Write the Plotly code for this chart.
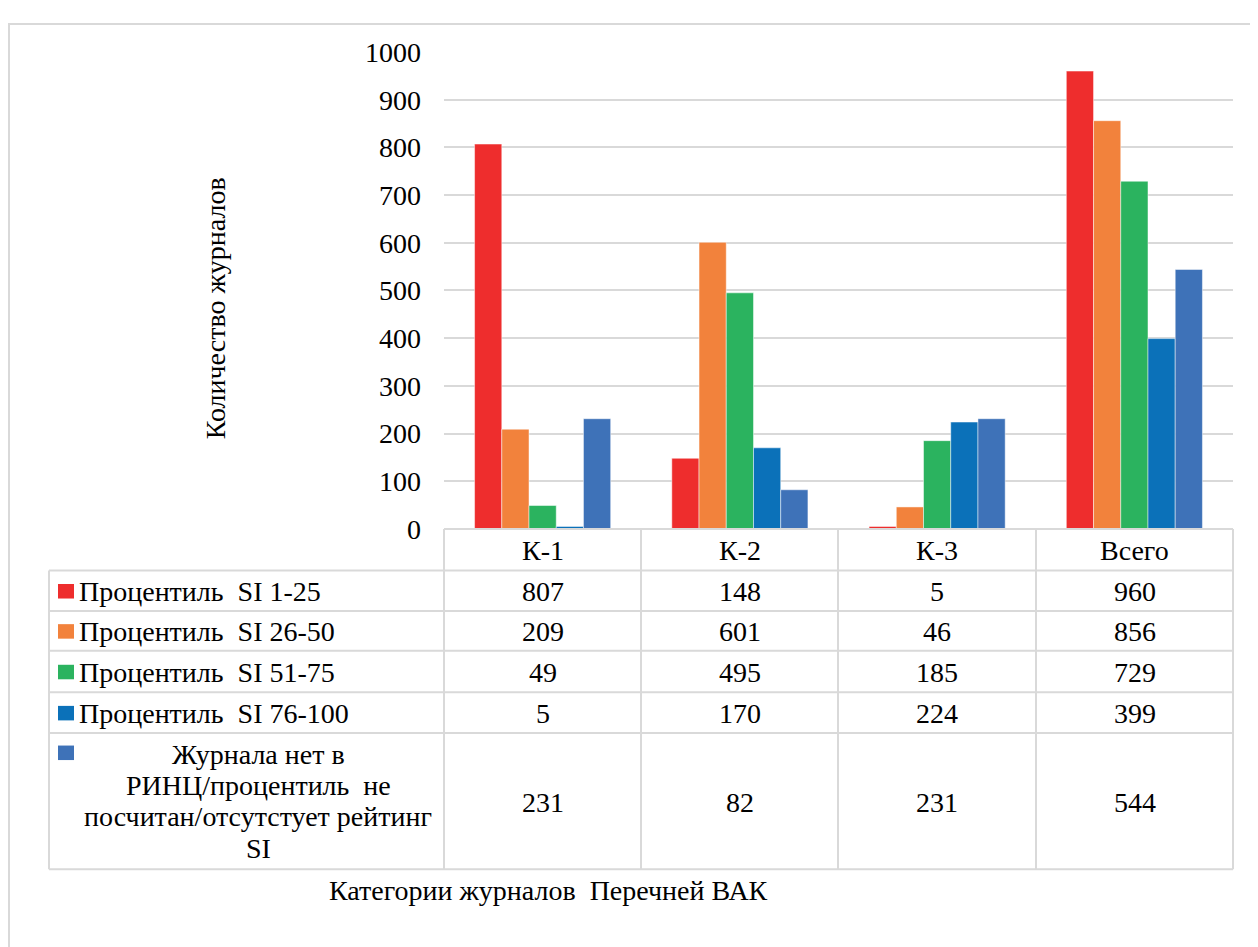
import plotly.graph_objects as go

categories = ["К-1", "К-2", "К-3", "Всего"]
series_names = [
    "Процентиль  SI 1-25",
    "Процентиль  SI 26-50",
    "Процентиль  SI 51-75",
    "Процентиль  SI 76-100",
    "Журнала нет в РИНЦ/процентиль не посчитан/отсутстует рейтинг SI",
]
series_labels = [
    "Процентиль  SI 1-25",
    "Процентиль  SI 26-50",
    "Процентиль  SI 51-75",
    "Процентиль  SI 76-100",
    "Журнала нет в<br>РИНЦ/процентиль  не<br>посчитан/отсутстует рейтинг<br>SI",
]
values = [
    [807, 148, 5, 960],
    [209, 601, 46, 856],
    [49, 495, 185, 729],
    [5, 170, 224, 399],
    [231, 82, 231, 544],
]
colors = ["#EE2D2D", "#F2823C", "#2BB35F", "#0B71B9", "#3E72B8"]
y_ticks = [0, 100, 200, 300, 400, 500, 600, 700, 800, 900, 1000]
y_title = "Количество журналов"
x_title = "Категории журналов  Перечней ВАК"

W, H = 1258, 947
OFF = 8  # page margin of the browser
FONT = "Liberation Serif"
FS = 28


def X(px):
    return (px - OFF) / W


def Y(py):
    return 1 - (py - OFF) / H


plot_left, plot_right, plot_top, plot_bottom = 444, 1233, 38, 531
col_edges = [444, 641, 838, 1036, 1233]
table_left = 49
row_edges = [531, 574, 616, 657, 700, 742, 883]

fig = go.Figure()
for name, vals, col in zip(series_names, values, colors):
    fig.add_trace(go.Bar(
        x=categories, y=vals, name=name,
        marker=dict(color=col, line=dict(color="rgba(255,255,255,0.6)", width=0.8)),
        showlegend=False,
    ))

shapes = []
line_col = "#D9D9D9"
# outer chart border (only top/left visible)
shapes.append(dict(type="rect", xref="paper", yref="paper",
                   x0=X(9), x1=X(1300), y0=Y(1000), y1=Y(9),
                   line=dict(color="#D9D9D9", width=2)))
# table horizontal lines
for i, ry in enumerate(row_edges):
    x0 = col_edges[0] if i == 0 else table_left
    shapes.append(dict(type="line", xref="paper", yref="paper",
                       x0=X(x0), x1=X(col_edges[-1]), y0=Y(ry), y1=Y(ry),
                       line=dict(color=line_col, width=2)))
# table vertical lines
shapes.append(dict(type="line", xref="paper", yref="paper",
                   x0=X(table_left), x1=X(table_left), y0=Y(row_edges[1]), y1=Y(row_edges[-1]),
                   line=dict(color=line_col, width=2)))
for cx in col_edges:
    shapes.append(dict(type="line", xref="paper", yref="paper",
                       x0=X(cx), x1=X(cx), y0=Y(row_edges[0]), y1=Y(row_edges[-1]),
                       line=dict(color=line_col, width=2)))

annotations = []
font = dict(family=FONT, size=FS, color="#000000")
# header
for ci, cat in enumerate(categories):
    cxm = (col_edges[ci] + col_edges[ci + 1]) / 2
    annotations.append(dict(x=X(cxm), y=Y((row_edges[0] + row_edges[1]) / 2 + 1), xref="paper", yref="paper",
                            text=cat, showarrow=False, font=font, xanchor="center", yanchor="middle"))
# rows
for ri, (lab, vals, col) in enumerate(zip(series_labels, values, colors)):
    top, bot = row_edges[ri + 1], row_edges[ri + 2]
    mid = (top + bot) / 2
    last = ri == len(series_labels) - 1
    if last:
        sq_top = top + 13
        lines = lab.split("<br>")
        for li, line in enumerate(lines):
            ly = mid + (li - (len(lines) - 1) / 2) * 32.3
            annotations.append(dict(x=X(258), y=Y(ly), xref="paper", yref="paper", text=line,
                                    showarrow=False, font=font, xanchor="center", yanchor="middle"))
    else:
        sq_top = mid - 7
        annotations.append(dict(x=X(77), y=Y(mid + 1), xref="paper", yref="paper", text=lab,
                                showarrow=False, font=font, xanchor="left", yanchor="middle"))
    shapes.append(dict(type="rect", xref="paper", yref="paper",
                       x0=X(58), x1=X(74), y0=Y(sq_top + 15), y1=Y(sq_top),
                       fillcolor=col, line=dict(width=0)))
    for ci, v in enumerate(vals):
        cxm = (col_edges[ci] + col_edges[ci + 1]) / 2
        annotations.append(dict(x=X(cxm), y=Y(mid + 1), xref="paper", yref="paper", text=str(v),
                                showarrow=False, font=font, xanchor="center", yanchor="middle"))
# axis titles
annotations.append(dict(x=X(215), y=Y(303), xref="paper", yref="paper", text=y_title, textangle=-90,
                        showarrow=False, font=font, xanchor="center", yanchor="middle"))
annotations.append(dict(x=X(548), y=Y(905), xref="paper", yref="paper", text=x_title,
                        showarrow=False, font=font, xanchor="center", yanchor="middle"))

fig.update_layout(
    width=W, height=H,
    margin=dict(l=0, r=0, t=0, b=0),
    paper_bgcolor="white", plot_bgcolor="white",
    barmode="group", bargap=0.31, bargroupgap=0,
    shapes=shapes, annotations=annotations,
    xaxis=dict(domain=[X(plot_left), X(plot_right)], showticklabels=False, showgrid=False,
               showline=False, zeroline=False, fixedrange=True),
    yaxis=dict(domain=[Y(plot_bottom), Y(plot_top)], range=[0, 1000], tickvals=y_ticks,
               showgrid=True, gridcolor="#D9D9D9", gridwidth=1.5, zeroline=False, showline=False,
               ticks="", ticklabelstandoff=22,
               tickfont=dict(family=FONT, size=FS, color="#000000")),
    font=dict(family=FONT),
)

fig.write_html("out.html")
